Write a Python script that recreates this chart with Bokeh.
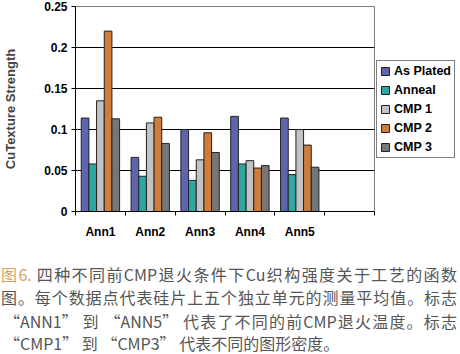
from bokeh.plotting import figure
from bokeh.models import Range1d, FixedTicker, Legend, LegendItem, CustomJSTickFormatter, ColumnDataSource, Div
from bokeh.layouts import column
from bokeh.embed import file_html
from bokeh.resources import INLINE

categories = ["Ann1", "Ann2", "Ann3", "Ann4", "Ann5"]
series = ["As Plated", "Anneal", "CMP 1", "CMP 2", "CMP 3"]
as_plated = [0.114, 0.066, 0.100, 0.116, 0.114]
anneal = [0.058, 0.043, 0.038, 0.058, 0.045]
cmp1 = [0.135, 0.108, 0.063, 0.062, 0.100]
cmp2 = [0.220, 0.115, 0.096, 0.053, 0.081]
cmp3 = [0.113, 0.083, 0.072, 0.056, 0.054]
y_ticks = [0, 0.05, 0.1, 0.15, 0.2, 0.25]
y_tick_labels = ["0", "0.05", "0.1", "0.15", "0.2", "0.25"]
n_slots = 6  # one empty slot at the right, as in the reference

caption_fig = "图6."
caption_lines = [
    "四种不同前CMP退火条件下Cu织构强度关于工艺的函数",
    "图。每个数据点代表硅片上五个独立单元的测量平均值。标志",
    "“ANN1” 到 “ANN5” 代表了不同的前CMP退火温度。标志",
    "“CMP1” 到 “CMP3” 代表不同的图形密度。",
]

colors = ["#5f64ae", "#2fa7a0", "#c3c3c3", "#cf7d3c", "#767676"]
values = [as_plated, anneal, cmp1, cmp2, cmp3]

FONT = "Liberation Sans"

p = figure(frame_width=299, frame_height=205, output_backend="svg", toolbar_location=None,
           x_range=Range1d(0, n_slots), y_range=Range1d(0, 0.25),
           min_border_left=74, min_border_right=87, min_border_top=6, min_border_bottom=27)
p.background_fill_color = "white"
p.border_fill_color = "white"
p.outline_line_color = "#808080"
p.outline_line_width = 1

bar_w = 0.154
items = []
for j, (name, vals, col) in enumerate(zip(series, values, colors)):
    xs = [i + 0.5 + (j - 2) * bar_w for i in range(len(categories))]
    src = ColumnDataSource(dict(x=xs, top=vals))
    r = p.vbar(x="x", top="top", width=bar_w, bottom=0, source=src,
               fill_color=col, line_color="#222222", line_width=1)
    items.append(LegendItem(label=name, renderers=[r]))

# y axis
p.yaxis.ticker = FixedTicker(ticks=y_ticks, minor_ticks=[])
p.yaxis.formatter = CustomJSTickFormatter(args=dict(labels=y_tick_labels),
    code="const i = Math.round(tick/0.05); return (i>=0 && i<labels.length) ? labels[i] : '';")
p.yaxis.major_tick_out = 4
p.yaxis.major_tick_in = 0
p.yaxis.minor_tick_out = 0
p.yaxis.minor_tick_in = 0
p.yaxis.major_label_standoff = 4
p.yaxis.major_label_text_font = FONT
p.yaxis.major_label_text_font_style = "bold"
p.yaxis.major_label_text_font_size = "12px"
p.yaxis.major_label_text_color = "black"
p.yaxis.axis_label = "CuTexture Strength"
p.yaxis.axis_label_text_font = FONT
p.yaxis.axis_label_text_font_style = "bold"
p.yaxis.axis_label_text_font_size = "13px"
p.yaxis.axis_label_standoff = 23
p.yaxis.axis_line_color = "black"
p.yaxis.major_tick_line_color = "black"

# x axis
p.xaxis.ticker = FixedTicker(ticks=[i + 0.5 for i in range(len(categories))],
                             minor_ticks=list(range(n_slots + 1)))
p.xaxis.formatter = CustomJSTickFormatter(args=dict(labels=categories),
    code="const i = Math.floor(tick); return (i>=0 && i<labels.length) ? labels[i] : '';")
p.xaxis.major_tick_out = 0
p.xaxis.major_tick_in = 0
p.xaxis.minor_tick_out = 4
p.xaxis.minor_tick_in = 0
p.xaxis.minor_tick_line_color = "black"
p.xaxis.major_label_standoff = 9
p.xaxis.major_label_text_font = FONT
p.xaxis.major_label_text_font_style = "bold"
p.xaxis.major_label_text_font_size = "12px"
p.xaxis.major_label_text_color = "black"
p.xaxis.axis_line_color = "black"

p.xgrid.visible = False
p.ygrid.ticker = FixedTicker(ticks=y_ticks)
p.ygrid.grid_line_color = "black"
p.ygrid.grid_line_width = 1

legend = Legend(items=items, location="center_left", orientation="vertical",
                border_line_color="black", border_line_width=1,
                background_fill_color="white", background_fill_alpha=1,
                label_text_font=FONT, label_text_font_style="bold",
                label_text_font_size="12.5px", label_text_color="black",
                glyph_width=10, glyph_height=10, label_standoff=4,
                label_height=12, spacing=5, padding=3, margin=2)
p.add_layout(legend, "right")

# caption below the chart
line_style = ("display:block; white-space:nowrap; height:23.3px; line-height:23.3px;")
last_style = ("display:block; white-space:nowrap; height:19px; line-height:19px; margin-top:1.4px;")
just = "text-align:justify; text-align-last:justify;"
html = (
    '<div style="width:456px; margin-left:-4px;">'
    f'<div style="{line_style}{just}">'
    f'<span style="color:#d8a060">{caption_fig}</span> {caption_lines[0]}</div>'
    f'<div style="{line_style}{just}">{caption_lines[1]}</div>'
    f'<div style="{line_style}{just} padding-left:3px;">{caption_lines[2]}</div>'
    f'<div style="{last_style} padding-left:3px;">{caption_lines[3]}</div>'
    '</div>'
)
cap = Div(text=html, width=460, height=107,
          styles={"font-family": "'Noto Sans CJK SC'", "font-size": "16px",
                  "color": "#555555", "padding-top": "17px", "padding-left": "0px",
                  "box-sizing": "border-box", "white-space": "normal"})

layout = column(p, cap, spacing=0)
open("out.html", "w").write(file_html(layout, INLINE))
